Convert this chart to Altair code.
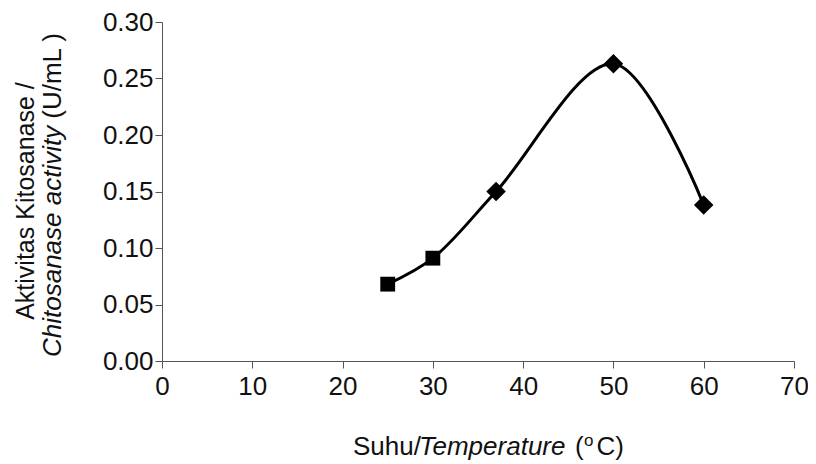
import altair as alt
import pandas as pd

temps = [25, 30, 37, 50, 60]
activity = [0.068, 0.091, 0.150, 0.263, 0.138]
shapes = ["square", "square", "diamond", "diamond", "diamond"]

x_ticks = [0, 10, 20, 30, 40, 50, 60, 70]
y_ticks = [0.00, 0.05, 0.10, 0.15, 0.20, 0.25, 0.30]

df = pd.DataFrame({"temp": temps, "act": activity, "shape": shapes})

FONT = "Liberation Sans"

x_enc = alt.X("temp:Q", scale=alt.Scale(domain=[0, 70], nice=False),
              axis=alt.Axis(values=x_ticks, title=None, grid=False, labelFontSize=26,
                            labelFont=FONT, labelColor="#111", labelPadding=5,
                            tickSize=7, domainColor="#555", tickColor="#555",
                            labelFlush=False))
y_enc = alt.Y("act:Q", scale=alt.Scale(domain=[0, 0.30], nice=False),
              axis=alt.Axis(values=y_ticks, format=".2f", title=None, grid=False,
                            labelFontSize=26, labelFont=FONT, labelColor="#111",
                            labelPadding=2, tickSize=7, domainColor="#555",
                            tickColor="#555"))

line = alt.Chart(df).mark_line(color="black", strokeWidth=3,
                               interpolate="catmull-rom").encode(x=x_enc, y=y_enc)
squares = alt.Chart(df).transform_filter(alt.datum.shape == "square").mark_point(
    filled=True, color="black", opacity=1, size=220, shape="square").encode(
    x="temp:Q", y="act:Q")
diamonds = alt.Chart(df).transform_filter(alt.datum.shape == "diamond").mark_point(
    filled=True, color="black", opacity=1, size=380, shape="diamond").encode(
    x="temp:Q", y="act:Q")


def txt(s, x, y, size=26, style="normal", align="left", angle=0, baseline="alphabetic"):
    kw = dict(font=FONT, fontSize=size, fontStyle=style, align=align,
              baseline=baseline, color="#111")
    if angle:
        kw["angle"] = angle
    return alt.Chart(pd.DataFrame({"t": [s]})).mark_text(**kw).encode(
        text="t:N", x=alt.value(x), y=alt.value(y))


# x-axis title pieces (positions relative to the plot origin)
xt = [
    txt("Suhu/", 191, 433),
    txt("Temperature", 257, 433, style="italic"),
    txt("(", 413, 433),
    txt("o", 422, 424, size=17),
    txt("C)", 462, 433, align="right"),
]
# y-axis title pieces (rotated)
yt = [
    txt("Aktivitas Kitosanase /", -136, 179, size=25, align="center", angle=270,
        baseline="middle"),
    txt("Chitosanase activity", -109, 335, style="italic", angle=270, baseline="middle"),
    txt("(U/mL )", -109, 11, align="right", angle=270, baseline="middle"),
]

chart = alt.layer(line, squares, diamonds, *xt, *yt).properties(
    width=632, height=339,
    autosize=alt.AutoSizeParams(type="none"),
    padding={"left": 154, "top": 14, "right": 14, "bottom": 103},
).configure_view(stroke=None)

chart.save("out.html", embed_options={"renderer": "svg", "actions": False})
